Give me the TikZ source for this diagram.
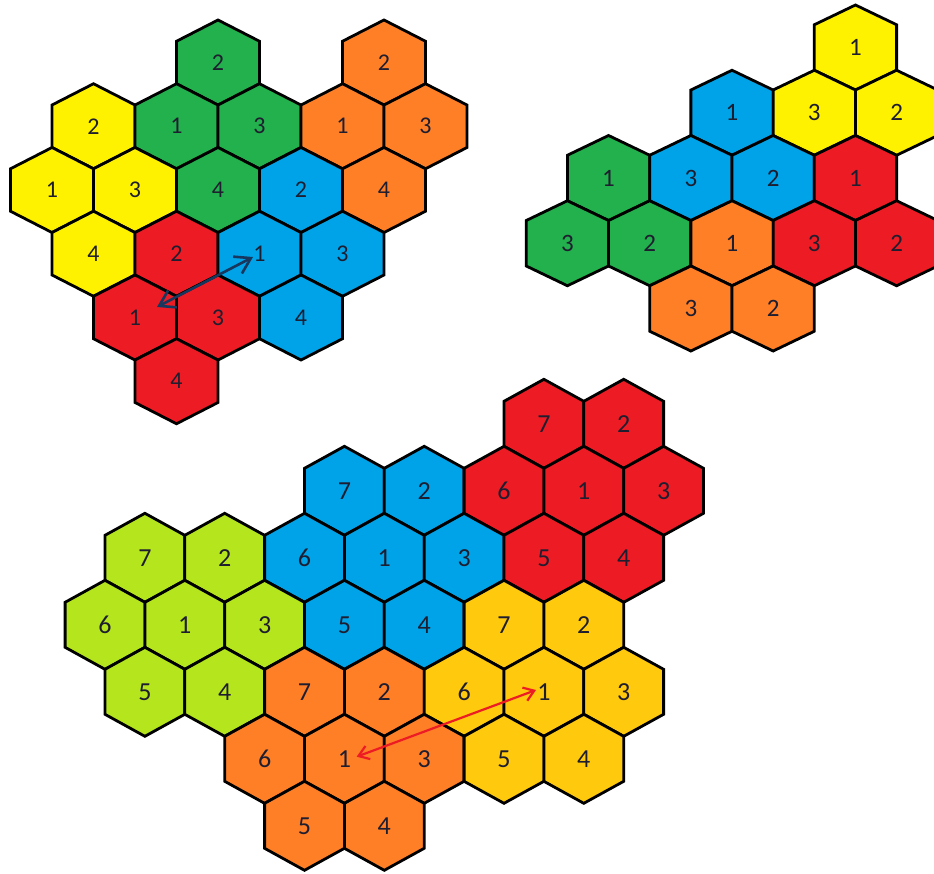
\documentclass[tikz,border=0pt]{standalone}
\usepackage{fontspec}
\setmainfont{Carlito}
\usetikzlibrary{arrows.meta}
\definecolor{cyel}{HTML}{FFF200}
\definecolor{cgrn}{HTML}{22B14C}
\definecolor{corg}{HTML}{FF7F27}
\definecolor{cblu}{HTML}{00A2E8}
\definecolor{cred}{HTML}{ED1C24}
\definecolor{clim}{HTML}{B5E61D}
\definecolor{cgld}{HTML}{FFC90E}
\definecolor{numc}{HTML}{1E1E30}
\definecolor{navyarrow}{HTML}{17375E}
\newcommand\hexcell[5]{%
  \filldraw[hexline,fill=#4,shift={(#2,#3)}] (0,-\hH/2) -- (\hW/2,-\hA) -- (\hW/2,\hA) -- (0,\hH/2) -- (-\hW/2,\hA) -- (-\hW/2,-\hA) -- cycle;
  \node[num] (#1) at (#2,#3) {#5};}
\newcommand\hexq[5]{\hexcell{#1}{\xO+#3*\hW/2}{\yO+#2*\hS}{#4}{#5}}
\begin{document}
\begin{tikzpicture}[x=1pt,y=-1pt,
  hexline/.style={draw=black,line width=2.8pt,line join=miter},
  num/.style={text=numc,inner sep=0pt,font=\fontsize{\fs}{\fs}\selectfont},
  tlarrow/.style={navyarrow,line width=2.6pt,{Straight Barb[length=15pt,width=19pt]}-{Straight Barb[length=15pt,width=19pt]}},
  btarrow/.style={cred,line width=2.2pt,{Straight Barb[length=10pt,width=14pt]}-{Straight Barb[length=10pt,width=14pt]}}]
\useasboundingbox (0,0) rectangle (934,873);
\clip (0,0) rectangle (934,873);
% ---------- top-left cluster ----------
\begin{scope}
\def\hW{83}\def\hH{85}\def\hA{21.25}\def\hS{63.75}\def\xO{52}\def\yO{62.5}\def\fs{24}
\hexq{tlG2}{0}{4}{cgrn}{2}
\hexq{tlO2}{0}{8}{corg}{2}
\hexq{tlY2}{1}{1}{cyel}{2}
\hexq{tlG1}{1}{3}{cgrn}{1}
\hexq{tlG3}{1}{5}{cgrn}{3}
\hexq{tlO1}{1}{7}{corg}{1}
\hexq{tlO3}{1}{9}{corg}{3}
\hexq{tlY1}{2}{0}{cyel}{1}
\hexq{tlY3}{2}{2}{cyel}{3}
\hexq{tlG4}{2}{4}{cgrn}{4}
\hexq{tlB2}{2}{6}{cblu}{2}
\hexq{tlO4}{2}{8}{corg}{4}
\hexq{tlY4}{3}{1}{cyel}{4}
\hexq{tlR2}{3}{3}{cred}{2}
\hexq{tlB1}{3}{5}{cblu}{1}
\hexq{tlB3}{3}{7}{cblu}{3}
\hexq{tlR1}{4}{2}{cred}{1}
\hexq{tlR3}{4}{4}{cred}{3}
\hexq{tlB4}{4}{6}{cblu}{4}
\hexq{tlR4}{5}{3}{cred}{4}
\draw[tlarrow] ([shift={(22,-10.5)}]tlR1.center) -- ([shift={(-6.5,3.25)}]tlB1.center);
\end{scope}
% ---------- top-right cluster ----------
\begin{scope}
\def\hW{82.3}\def\hH{85}\def\hA{22.75}\def\hS{65.25}\def\xO{567.4}\def\yO{47.5}\def\fs{25}
\hexq{trY1}{0}{7}{cyel}{1}
\hexq{trB1}{1}{4}{cblu}{1}
\hexq{trY3}{1}{6}{cyel}{3}
\hexq{trY2}{1}{8}{cyel}{2}
\hexq{trG1}{2}{1}{cgrn}{1}
\hexq{trB3}{2}{3}{cblu}{3}
\hexq{trB2}{2}{5}{cblu}{2}
\hexq{trR1}{2}{7}{cred}{1}
\hexq{trG3}{3}{0}{cgrn}{3}
\hexq{trG2}{3}{2}{cgrn}{2}
\hexq{trO1}{3}{4}{corg}{1}
\hexq{trR3}{3}{6}{cred}{3}
\hexq{trR2}{3}{8}{cred}{2}
\hexq{trO3}{4}{3}{corg}{3}
\hexq{trO2}{4}{5}{corg}{2}
\end{scope}
% ---------- bottom cluster ----------
\begin{scope}
\def\hW{79.8}\def\hH{89}\def\hA{22.5}\def\hS{67}\def\xO{105}\def\yO{423.8}\def\fs{26}
\hexq{bR7}{0}{11}{cred}{7}
\hexq{bR2}{0}{13}{cred}{2}
\hexq{bB7}{1}{6}{cblu}{7}
\hexq{bB2}{1}{8}{cblu}{2}
\hexq{bR6}{1}{10}{cred}{6}
\hexq{bR1}{1}{12}{cred}{1}
\hexq{bR3}{1}{14}{cred}{3}
\hexq{bL7}{2}{1}{clim}{7}
\hexq{bL2}{2}{3}{clim}{2}
\hexq{bB6}{2}{5}{cblu}{6}
\hexq{bB1}{2}{7}{cblu}{1}
\hexq{bB3}{2}{9}{cblu}{3}
\hexq{bR5}{2}{11}{cred}{5}
\hexq{bR4}{2}{13}{cred}{4}
\hexq{bL6}{3}{0}{clim}{6}
\hexq{bL1}{3}{2}{clim}{1}
\hexq{bL3}{3}{4}{clim}{3}
\hexq{bB5}{3}{6}{cblu}{5}
\hexq{bB4}{3}{8}{cblu}{4}
\hexq{bY7}{3}{10}{cgld}{7}
\hexq{bY2}{3}{12}{cgld}{2}
\hexq{bL5}{4}{1}{clim}{5}
\hexq{bL4}{4}{3}{clim}{4}
\hexq{bO7}{4}{5}{corg}{7}
\hexq{bO2}{4}{7}{corg}{2}
\hexq{bY6}{4}{9}{cgld}{6}
\hexq{bY1}{4}{11}{cgld}{1}
\hexq{bY3}{4}{13}{cgld}{3}
\hexq{bO6}{5}{4}{corg}{6}
\hexq{bO1}{5}{6}{corg}{1}
\hexq{bO3}{5}{8}{corg}{3}
\hexq{bY5}{5}{10}{cgld}{5}
\hexq{bY4}{5}{12}{cgld}{4}
\hexq{bO5}{6}{5}{corg}{5}
\hexq{bO4}{6}{7}{corg}{4}
\draw[btarrow] ([shift={(12.3,-2.1)}]bO1.center) -- ([shift={(-7.9,-1.8)}]bY1.center);
\end{scope}
\end{tikzpicture}
\end{document}
